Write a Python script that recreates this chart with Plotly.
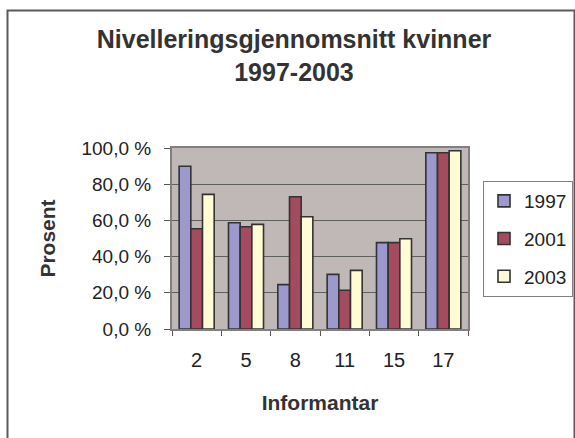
import plotly.graph_objects as go

categories = ["2", "5", "8", "11", "15", "17"]
years = ["1997", "2001", "2003"]
values_1997 = [89.9, 58.7, 24.5, 30.2, 47.7, 97.4]
values_2001 = [55.4, 56.5, 73.1, 21.4, 47.7, 97.4]
values_2003 = [74.4, 57.8, 62.0, 32.4, 49.9, 98.5]
series = [values_1997, values_2001, values_2003]
colors = ["#9E99CC", "#A44B5F", "#FFFBD5"]

y_tickvals = [0, 20, 40, 60, 80, 100]
y_ticktext = ["0,0 %", "20,0 %", "40,0 %", "60,0 %", "80,0 %", "100,0 %"]

FONT = "Liberation Sans, Arial, sans-serif"
W, H = 575, 438
L, R, T, B = 172, 468, 148, 329  # plot area in pixels

fig = go.Figure()
for name, vals, col in zip(years, series, colors):
    fig.add_trace(go.Bar(
        x=categories, y=vals, name=name, legendgroup=name,
        marker=dict(color=col, line=dict(color="#333333", width=1.6)),
    ))

pw, ph = R - L, B - T
def px_x(x):
    return (x - L) / pw
def px_y(y):
    return (B - y) / ph

fig.update_layout(
    width=W, height=H,
    margin=dict(l=L, r=W - R, t=T, b=H - B, autoexpand=False),
    paper_bgcolor="white",
    plot_bgcolor="#C0B8B7",
    bargap=0.29,
    bargroupgap=0,
    font=dict(family=FONT, color="#222222", size=19),
    title=dict(
        text="<b>Nivelleringsgjennomsnitt kvinner<br>1997-2003</b>",
        font=dict(family=FONT, size=25, color="#333333"),
        x=294 / W, xref="container", xanchor="center",
        y=1 - 48 / H, yref="container", yanchor="top",
    ),
    legend=dict(
        x=px_x(573), y=px_y(181), xanchor="right", yanchor="top",
        bordercolor="#808080", borderwidth=1, bgcolor="white",
        font=dict(family=FONT, size=19, color="#222222"),
        tracegroupgap=10, traceorder="grouped",
        itemwidth=30,
    ),
    xaxis=dict(
        type="category",
        ticks="outside", tickson="boundaries", ticklen=5,
        tickcolor="#555555", ticklabelstandoff=12,
        showline=True, linecolor="#808080", linewidth=2, mirror=True,
        showgrid=False,
        tickfont=dict(family=FONT, size=20, color="#222222"),
        title=dict(text="<b>Informantar</b>", standoff=25,
                   font=dict(family=FONT, size=21, color="#333333")),
    ),
    yaxis=dict(
        range=[0, 100],
        tickvals=y_tickvals, ticktext=y_ticktext,
        ticks="outside", ticklen=6, tickcolor="#555555",
        ticklabelstandoff=9,
        showline=True, linecolor="#808080", linewidth=2, mirror=True,
        showgrid=True, gridcolor="#5F5F5F", gridwidth=1,
        zeroline=False,
        tickfont=dict(family=FONT, size=19, color="#222222"),
        title=dict(text="<b>Prosent</b>", standoff=20,
                   font=dict(family=FONT, size=21, color="#333333")),
    ),
    shapes=[dict(
        type="rect", xref="paper", yref="paper",
        x0=px_x(7.5), x1=px_x(574.5), y0=px_y(470), y1=px_y(10.5),
        line=dict(color="#5A5A5A", width=2), fillcolor="rgba(0,0,0,0)",
        layer="below",
    )],
)

fig.write_html("out.html", config={"displayModeBar": False},
               post_script="document.body.style.margin='0';")
